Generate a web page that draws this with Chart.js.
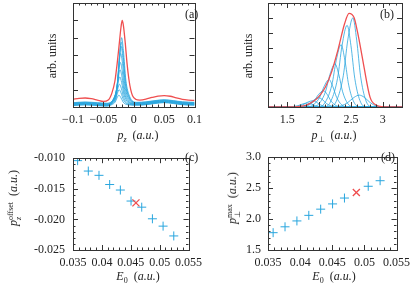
<!DOCTYPE html>
<html><head><meta charset="utf-8">
<script src="https://cdn.jsdelivr.net/npm/chart.js@4"></script>
<style>
html,body{margin:0;padding:0;background:#fff;}
#wrap{position:relative;width:416px;height:287px;overflow:hidden;font-family:"Liberation Serif",serif;color:#222;}
canvas{position:absolute;}
.t{position:absolute;font-size:12px;white-space:nowrap;line-height:1;z-index:2;}
.xt{transform:translateX(-50%);}
.yt{transform:translate(-50%,-50%) rotate(-90deg);}
sub,sup{font-size:8px;line-height:0;}
.ss{display:inline-block;vertical-align:-4px;font-size:8px;line-height:8px;}
.ss span{display:block;}
</style></head>
<body>
<div id="wrap">
<canvas id="ca" width="208" height="143" style="left:0;top:0"></canvas>
<canvas id="cb" width="208" height="143" style="left:208px;top:0"></canvas>
<canvas id="cc" width="208" height="144" style="left:0;top:143px"></canvas>
<canvas id="cd" width="208" height="144" style="left:208px;top:143px"></canvas>

<div class="t" style="left:185px;top:8px">(a)</div>
<div class="t" style="left:380px;top:8px">(b)</div>
<div class="t" style="left:185px;top:151px">(c)</div>
<div class="t" style="left:381px;top:151px">(d)</div>

<div class="t xt" style="left:138px;top:129px"><i>p</i><sub><i>z</i></sub>&nbsp;&nbsp;(<i>a.u.</i>)</div>
<div class="t xt" style="left:334px;top:129px"><i>p</i><sub>⊥</sub>&nbsp;&nbsp;(<i>a.u.</i>)</div>
<div class="t xt" style="left:138px;top:270px"><i>E</i><sub>0</sub>&nbsp;&nbsp;(<i>a.u.</i>)</div>
<div class="t xt" style="left:334px;top:270px"><i>E</i><sub>0</sub>&nbsp;&nbsp;(<i>a.u.</i>)</div>

<div class="t yt" style="left:52px;top:56px">arb. units</div>
<div class="t yt" style="left:248px;top:56px">arb. units</div>
<div class="t yt" style="left:15px;top:198px"><i>p</i><span class="ss"><span>offset</span><span><i>z</i></span></span>&nbsp;&nbsp;(<i>a.u.</i>)</div>
<div class="t yt" style="left:234px;top:198px"><i>p</i><span class="ss"><span>max</span><span>⊥</span></span>&nbsp;&nbsp;(<i>a.u.</i>)</div>
</div>
<script>
// ===== data =====
// (a) p_z spectra
const aRedX=[-0.1,-0.09,-0.08,-0.07,-0.06,-0.05,-0.042,-0.036,-0.031,-0.027,-0.024,-0.021,-0.019,-0.017,-0.014,-0.011,-0.008,-0.005,-0.002,0.003,0.01,0.02,0.03,0.04,0.05,0.06,0.07,0.08,0.09,0.1];
const aRedY=[0.45,0.5,0.52,0.48,0.4,0.32,0.4,0.8,1.5,2.6,3.6,4.6,5.0,4.7,3.7,2.5,1.6,1.0,0.65,0.45,0.4,0.45,0.55,0.63,0.66,0.62,0.52,0.44,0.4,0.38];
const aBlueX=[
 [-0.1,-0.08,-0.06,-0.045,-0.0365,-0.0305,-0.0275,-0.0245,-0.0215,-0.0175,-0.0115,0.005,0.02,0.035,0.05,0.065,0.08,0.1],
 [-0.1,-0.08,-0.06,-0.045,-0.036,-0.030,-0.027,-0.024,-0.021,-0.017,-0.011,0.005,0.02,0.035,0.05,0.065,0.08,0.1],
 [-0.1,-0.08,-0.06,-0.045,-0.0355,-0.0295,-0.0265,-0.0235,-0.0205,-0.0165,-0.0105,0.005,0.02,0.035,0.05,0.065,0.08,0.1],
 [-0.1,-0.08,-0.06,-0.045,-0.035,-0.029,-0.026,-0.023,-0.020,-0.016,-0.010,0.005,0.02,0.035,0.05,0.065,0.08,0.1],
 [-0.1,-0.08,-0.06,-0.045,-0.0345,-0.0285,-0.0255,-0.0225,-0.0195,-0.0155,-0.0095,0.005,0.02,0.035,0.05,0.065,0.08,0.1],
 [-0.1,-0.08,-0.06,-0.045,-0.034,-0.028,-0.025,-0.022,-0.019,-0.015,-0.009,0.005,0.02,0.035,0.05,0.065,0.08,0.1],
 [-0.1,-0.08,-0.06,-0.045,-0.0335,-0.0275,-0.0245,-0.0215,-0.0185,-0.0145,-0.0085,0.005,0.02,0.035,0.05,0.065,0.08,0.1],
 [-0.1,-0.08,-0.06,-0.045,-0.033,-0.027,-0.024,-0.021,-0.018,-0.014,-0.008,0.005,0.02,0.035,0.05,0.065,0.08,0.1],
 [-0.1,-0.08,-0.06,-0.045,-0.0325,-0.0265,-0.0235,-0.0205,-0.0175,-0.0135,-0.0075,0.005,0.02,0.035,0.05,0.065,0.08,0.1],
 [-0.1,-0.08,-0.06,-0.045,-0.032,-0.026,-0.023,-0.020,-0.017,-0.013,-0.007,0.005,0.02,0.035,0.05,0.065,0.08,0.1]
];
const aBlueY=[
 [0.08,0.12,0.08,0.05,0.13,0.29,0.53,0.68,0.56,0.29,0.14,0.10,0.13,0.20,0.25,0.20,0.13,0.10],
 [0.10,0.14,0.10,0.07,0.17,0.42,0.78,1.00,0.82,0.42,0.19,0.12,0.15,0.22,0.27,0.22,0.15,0.12],
 [0.12,0.16,0.12,0.09,0.22,0.54,1.02,1.32,1.08,0.54,0.24,0.14,0.17,0.24,0.29,0.24,0.17,0.14],
 [0.14,0.18,0.14,0.11,0.27,0.70,1.34,1.74,1.42,0.70,0.30,0.16,0.19,0.26,0.31,0.26,0.19,0.16],
 [0.15,0.19,0.15,0.12,0.31,0.85,1.65,2.15,1.75,0.85,0.35,0.17,0.20,0.27,0.32,0.27,0.20,0.17],
 [0.17,0.21,0.17,0.14,0.36,1.01,1.97,2.57,2.09,1.01,0.41,0.19,0.22,0.29,0.34,0.29,0.22,0.19],
 [0.19,0.23,0.19,0.16,0.42,1.21,2.37,3.09,2.51,1.21,0.48,0.21,0.24,0.31,0.36,0.31,0.24,0.21],
 [0.21,0.25,0.21,0.18,0.47,1.37,2.69,3.51,2.85,1.37,0.54,0.23,0.26,0.33,0.38,0.33,0.26,0.23],
 [0.23,0.27,0.23,0.20,0.51,1.46,2.86,3.73,3.03,1.46,0.58,0.25,0.28,0.35,0.40,0.35,0.28,0.25],
 [0.25,0.29,0.25,0.22,0.55,1.56,3.06,4.00,3.25,1.56,0.63,0.27,0.30,0.37,0.42,0.37,0.30,0.27]
];
// (b) p_perp spectra
const bRedX=[1.2,1.5,1.6,1.7,1.8,1.9,2.0,2.1,2.2,2.3,2.4,2.47,2.55,2.6,2.65,2.7,2.8,2.9,3.0,3.1,3.3];
const bRedY=[0,0,0.01,0.04,0.13,0.35,0.72,1.35,2.4,3.9,5.6,6.3,6.0,5.1,4.0,2.8,0.65,0.12,0.02,0,0];
const bBlueX=[
 [1.2,1.47,1.57,1.67,1.74,1.82,1.88,1.94,2.02,2.12,3.3],
 [1.2,1.55,1.65,1.75,1.82,1.90,1.96,2.02,2.10,2.20,3.3],
 [1.2,1.65,1.75,1.85,1.92,2.0,2.06,2.12,2.20,2.30,3.3],
 [1.2,1.72,1.82,1.92,1.99,2.07,2.13,2.19,2.27,2.37,3.3],
 [1.2,1.81,1.91,2.01,2.08,2.155,2.215,2.275,2.355,2.455,3.3],
 [1.2,1.90,2.00,2.10,2.17,2.25,2.31,2.37,2.45,2.55,3.3],
 [1.2,2.0,2.1,2.2,2.27,2.345,2.405,2.465,2.545,2.645,3.3],
 [1.2,2.09,2.19,2.29,2.36,2.44,2.50,2.56,2.64,2.74,3.3],
 [1.2,2.18,2.28,2.38,2.45,2.53,2.59,2.65,2.73,2.83,3.3],
 [1.2,2.25,2.35,2.45,2.55,2.63,2.71,2.80,2.90,3.0,3.3]
];
const bBlueY=[
 [0,0,0.02,0.09,0.2,0.27,0.2,0.09,0.02,0,0],
 [0,0,0.03,0.15,0.32,0.42,0.32,0.15,0.03,0,0],
 [0,0,0.05,0.22,0.47,0.62,0.47,0.22,0.05,0,0],
 [0,0,0.09,0.39,0.83,1.1,0.83,0.39,0.09,0,0],
 [0,0,0.15,0.65,1.39,1.85,1.39,0.65,0.15,0,0],
 [0,0,0.23,1.02,2.18,2.9,2.18,1.02,0.23,0,0],
 [0,0,0.34,1.47,3.15,4.2,3.15,1.47,0.34,0,0],
 [0,0,0.44,1.93,4.13,5.5,4.13,1.93,0.44,0,0],
 [0,0,0.48,2.1,4.5,6.0,4.5,2.1,0.48,0,0],
 [0,0,0.08,0.3,0.65,0.8,0.65,0.3,0.06,0,0]
];
// (c) offset vs E0
const cE0=[0.0358,0.03765,0.0395,0.04135,0.0432,0.04505,0.0469,0.04875,0.0506,0.05245];
const cOffset=[-0.0104,-0.0121,-0.0128,-0.0143,-0.0152,-0.0170,-0.0180,-0.0199,-0.0211,-0.0227];
const cRed=[{x:0.0459,y:-0.0173}];
// (d) p_perp max vs E0
const dE0=[0.0358,0.03765,0.0395,0.04135,0.0432,0.04505,0.0469,0.0506,0.05245];
const dMax=[1.78,1.875,1.97,2.06,2.16,2.245,2.34,2.53,2.62];
const dRed=[{x:0.04875,y:2.43}];

// tick values / labels
const aXTicks=[-0.1,-0.05,0,0.05,0.1], aXLabels=['−0.1','−0.05','0','0.05','0.1'];
const aYTicks=[1,2,3,4,5];
const bXTicks=[1.5,2,2.5,3], bXLabels=['1.5','2','2.5','3'];
const bYTicks=[1,2,3,4,5,6];
const eTicks=[0.035,0.04,0.045,0.05,0.055], eLabels=['0.035','0.04','0.045','0.05','0.055'];
const cYTicks=[-0.025,-0.02,-0.015,-0.01], cYLabels=['-0.025','-0.020','-0.015','-0.010'];
const dYTicks=[1.5,2,2.5,3], dYLabels=['1.5','2.0','2.5','3.0'];

const BLUE='#29a6de', RED='#ef4f50', FONT={family:'"Liberation Serif", serif',size:12};

// ===== frame with inward ticks =====
function tickRun(ctx,a,sc,vals,len,isX){
  for(const v of vals){
    const p=Math.round(sc.getPixelForValue(v))+0.5;
    ctx.beginPath();
    if(isX){ctx.moveTo(p,a.bottom);ctx.lineTo(p,a.bottom-len);ctx.moveTo(p,a.top);ctx.lineTo(p,a.top+len);}
    else{ctx.moveTo(a.left,p);ctx.lineTo(a.left+len,p);ctx.moveTo(a.right,p);ctx.lineTo(a.right-len,p);}
    ctx.stroke();
  }
}
function steps(min,max,st){const n=Math.round((max-min)/st),r=[];for(let i=1;i<n;i++)r.push(min+i*st);return r;}
const framePlugin={id:'frame',afterDraw(c,args,o){
  const ctx=c.ctx,a=c.chartArea,x=c.scales.x,y=c.scales.y;
  ctx.save();ctx.strokeStyle='#333';ctx.lineWidth=1;
  if(o.xMinor)tickRun(ctx,a,x,steps(x.min,x.max,o.xMinor),2.5,true);
  if(o.yMinor)tickRun(ctx,a,y,steps(y.min,y.max,o.yMinor),2.5,false);
  tickRun(ctx,a,x,o.xMajor,5,true);
  tickRun(ctx,a,y,o.yMajor,5,false);
  ctx.strokeRect(Math.round(a.left)+0.5,Math.round(a.top)+0.5,Math.round(a.right-a.left),Math.round(a.bottom-a.top));
  ctx.restore();
}};

function makeOpts(p){
  return {
    responsive:false,animation:false,events:[],
    layout:{padding:{top:p.t,right:p.r,left:0,bottom:0}},
    plugins:{legend:{display:false},tooltip:{enabled:false},
      frame:{xMajor:p.xTicks,yMajor:p.yTicks,xMinor:p.xMinor,yMinor:p.yMinor}},
    scales:{
      x:{type:'linear',min:p.xMin,max:p.xMax,
        afterBuildTicks:s=>{s.ticks=p.xTicks.map(v=>({value:v}));},
        afterFit:s=>{s.height=p.b;},
        ticks:{callback:(v,i)=>p.xLabels[i],font:FONT,color:'#222',padding:p.xPad,maxRotation:0,autoSkip:false},
        grid:{display:false,drawTicks:false,tickLength:0},border:{display:false}},
      y:{type:'linear',min:p.yMin,max:p.yMax,
        afterBuildTicks:s=>{s.ticks=p.yTicks.map(v=>({value:v}));},
        afterFit:s=>{s.width=p.l;},
        ticks:{display:!!p.yLabels,callback:(v,i)=>p.yLabels?p.yLabels[i]:'',font:FONT,color:'#222',padding:p.yPad||8,autoSkip:false},
        grid:{display:false,drawTicks:false,tickLength:0},border:{display:false}}
    }
  };
}
function zip(xs,ys){return xs.map((x,i)=>({x,y:ys[i]}));}
function lineSet(xs,ys,col,w){return {data:zip(xs,ys),showLine:true,borderColor:col,borderWidth:w,pointRadius:0,cubicInterpolationMode:'monotone',fill:false};}

// (a)
new Chart(document.getElementById('ca'),{type:'scatter',plugins:[framePlugin],
  data:{datasets:[lineSet(aRedX,aRedY,RED,1.3)].concat(aBlueX.map((xs,i)=>lineSet(xs,aBlueY[i],BLUE,0.8)))},
  options:makeOpts({t:3,r:5,l:73,b:36,xMin:-0.1,xMax:0.1,yMin:0,yMax:6,xTicks:aXTicks,xLabels:aXLabels,yTicks:aYTicks,xMinor:0.01,xPad:6})});
// (b)
new Chart(document.getElementById('cb'),{type:'scatter',plugins:[framePlugin],
  data:{datasets:[lineSet(bRedX,bRedY,RED,1.3)].concat(bBlueX.map((xs,i)=>lineSet(xs,bBlueY[i],BLUE,0.8)))},
  options:makeOpts({t:3,r:14,l:60,b:36,xMin:1.2,xMax:3.3,yMin:0,yMax:7,xTicks:bXTicks,xLabels:bXLabels,yTicks:bYTicks,xMinor:0.1,xPad:6})});
// (c)
new Chart(document.getElementById('cc'),{type:'scatter',plugins:[framePlugin],
  data:{datasets:[
    {data:cRed,pointStyle:'crossRot',pointRadius:5,borderColor:RED,borderWidth:1.3,backgroundColor:RED},
    {data:zip(cE0,cOffset),pointStyle:'cross',pointRadius:4.5,borderColor:BLUE,borderWidth:1,backgroundColor:BLUE}]},
  options:makeOpts({t:3,r:5,l:73,b:37,xMin:0.035,xMax:0.055,yMin:-0.025,yMax:-0.01,xTicks:eTicks,xLabels:eLabels,yTicks:cYTicks,yLabels:cYLabels,xMinor:0.001,yMinor:0.001,xPad:6,yPad:8})});
// (d)
new Chart(document.getElementById('cd'),{type:'scatter',plugins:[framePlugin],
  data:{datasets:[
    {data:dRed,pointStyle:'crossRot',pointRadius:5,borderColor:RED,borderWidth:1.3,backgroundColor:RED},
    {data:zip(dE0,dMax),pointStyle:'cross',pointRadius:4.5,borderColor:BLUE,borderWidth:1,backgroundColor:BLUE}]},
  options:makeOpts({t:3,r:14,l:60,b:37,xMin:0.035,xMax:0.055,yMin:1.5,yMax:3.0,xTicks:eTicks,xLabels:eLabels,yTicks:dYTicks,yLabels:dYLabels,xMinor:0.001,yMinor:0.1,xPad:6,yPad:7})});
</script>
</body></html>
